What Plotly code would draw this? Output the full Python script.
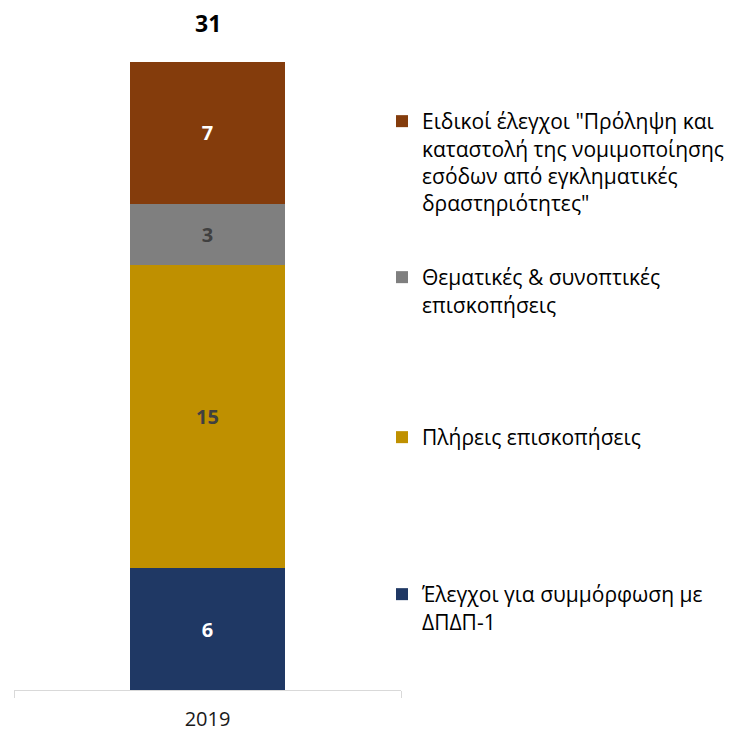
import plotly.graph_objects as go

# data
year = ["2019"]
series_names = [
    "Έλεγχοι για συμμόρφωση με<br>ΔΠΔΠ-1",
    "Πλήρεις επισκοπήσεις",
    "Θεματικές & συνοπτικές<br>επισκοπήσεις",
    "Ειδικοί έλεγχοι \"Πρόληψη και<br>καταστολή της νομιμοποίησης<br>εσόδων από εγκληματικές<br>δραστηριότητες\"",
]
series_values = [[6], [15], [3], [7]]
total = [31]

colors = ["#1F3864", "#BF9000", "#7F7F7F", "#843C0C"]
label_colors = ["white", "#404040", "#404040", "white"]
legend_ids = ["legend4", "legend3", "legend2", "legend"]

FONT = "Open Sans"

# page body has an 8px margin, so shrink the figure to fit the window
OFF = 8
W, H = 745 - OFF, 733 - OFF

# wanted plot area in window pixels: x 14..401, y 62..690
x0_px, x1_px = 14 - OFF, 401 - OFF
y0_px, y1_px = 62 - OFF, 690 - OFF
pw = x1_px - x0_px
ph = y1_px - y0_px


def lx(px):
    return (px - OFF - x0_px) / pw


def ly(px):
    return (y1_px - (px - OFF)) / ph


fig = go.Figure()
for name, vals, c, lc, lid in zip(series_names, series_values, colors, label_colors, legend_ids):
    fig.add_trace(
        go.Bar(
            x=year,
            y=vals,
            name=name,
            marker=dict(color=c, line=dict(width=0)),
            text=vals,
            texttemplate="<b>%{text}</b>",
            textposition="inside",
            insidetextanchor="middle",
            textfont=dict(color=lc, size=20, family=FONT),
            legend=lid,
            hoverinfo="skip",
        )
    )

# total on top of the stack (x=0 is the first category)
fig.add_annotation(
    x=0,
    y=total[0],
    xref="x",
    yref="y",
    text="<b>%d</b>" % total[0],
    showarrow=False,
    yanchor="bottom",
    yshift=21,
    font=dict(size=23, color="black", family=FONT),
)

leg_font = dict(size=21, color="black", family=FONT)
# top edge of each legend (window pixels)
leg_tops = {"legend": 101, "legend2": 257, "legend3": 417, "legend4": 574}
legends = {}
for lid, top in leg_tops.items():
    legends[lid] = dict(
        x=lx(382),
        y=ly(top),
        xanchor="left",
        yanchor="top",
        font=leg_font,
        valign="top",
        bgcolor="rgba(0,0,0,0)",
        itemclick=False,
    )

fig.update_layout(
    width=W,
    height=H,
    margin=dict(l=x0_px, r=W - x1_px, t=y0_px, b=H - y1_px, autoexpand=False),
    barmode="stack",
    bargap=0.6,
    plot_bgcolor="white",
    paper_bgcolor="white",
    font=dict(family=FONT),
    showlegend=True,
    **legends,
)
fig.update_xaxes(
    type="category",
    range=[-0.5, 0.5],
    showline=True,
    linecolor="#D9D9D9",
    linewidth=1,
    ticks="outside",
    tickson="boundaries",
    ticklen=7,
    tickcolor="#D9D9D9",
    tickfont=dict(size=20, color="#1a1a1a", family=FONT),
    ticklabelstandoff=11,
    showgrid=False,
    zeroline=False,
    automargin=False,
)
fig.update_yaxes(
    range=[0, 31],
    visible=False,
    showgrid=False,
    zeroline=False,
)

fig.write_html("out.html")
